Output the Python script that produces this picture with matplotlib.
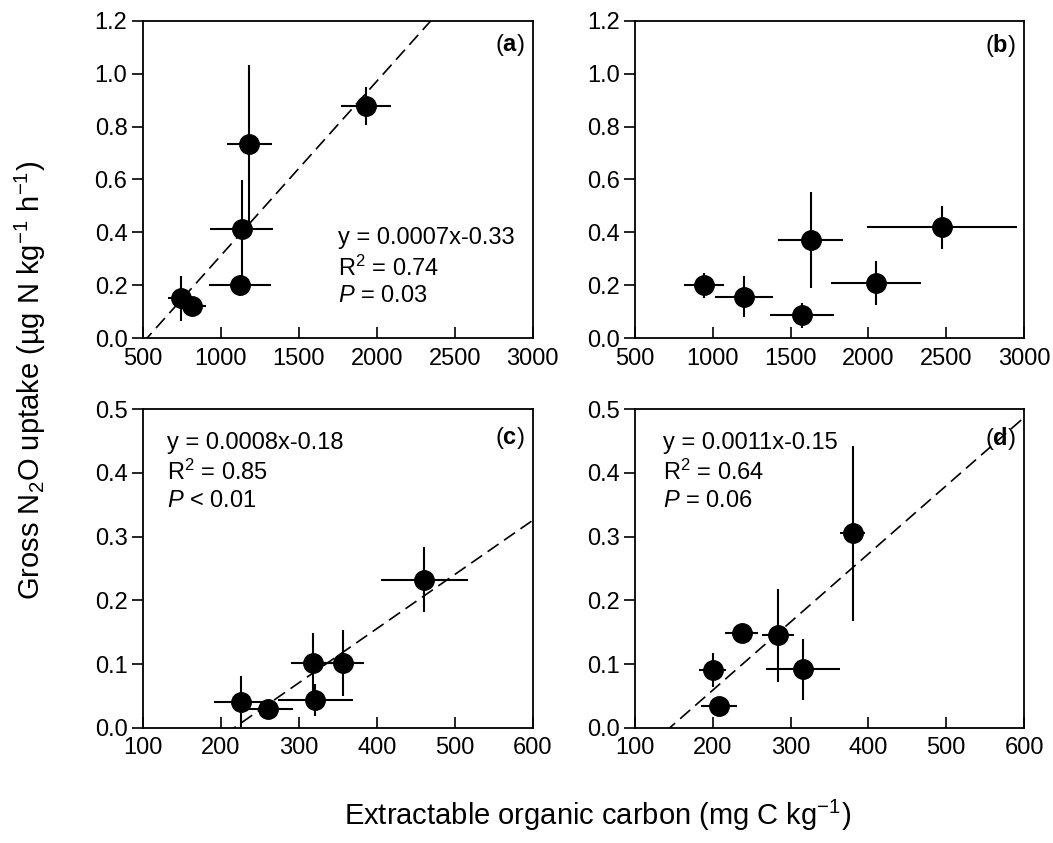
import matplotlib
matplotlib.use('Agg')
import matplotlib.pyplot as plt
import numpy as np

plt.rcParams['font.family'] = ['Liberation Sans', 'DejaVu Sans']
plt.rcParams['mathtext.fontset'] = 'custom'
plt.rcParams['mathtext.rm'] = 'Liberation Sans'
plt.rcParams['mathtext.it'] = 'Liberation Sans:italic'
plt.rcParams['mathtext.bf'] = 'Liberation Sans:bold'

# --- Data ---
# (a)
a_x = [744, 814, 1124, 1135, 1184, 1932]
a_y = [0.151, 0.122, 0.201, 0.414, 0.734, 0.878]
a_xerr = [83, 92, 199, 203, 146, 160]
a_yerr = [0.085, 0.02, 0.04, 0.185, 0.30, 0.073]
a_fit = (0.000659, -0.347)

# (b)
b_x = [943, 1202, 1574, 1628, 2048, 2476]
b_y = [0.201, 0.157, 0.087, 0.372, 0.208, 0.419]
b_xerr = [128, 185, 208, 208, 290, 482]
b_yerr = [0.047, 0.077, 0.047, 0.181, 0.083, 0.082]

# (c)
c_x = [226, 260, 318, 321, 357, 461]
c_y = [0.041, 0.030, 0.101, 0.0435, 0.101, 0.232]
c_xerr = [35, 33, 28, 48, 27, 56]
c_yerr = [0.040, 0.008, 0.047, 0.025, 0.052, 0.051]
c_fit = (0.000851, -0.185)

# (d)
d_x = [200, 208, 237, 284, 316, 380]
d_y = [0.0906, 0.034, 0.148, 0.1455, 0.0916, 0.305]
d_xerr = [17.5, 23.5, 21, 21, 47, 16]
d_yerr = [0.027, 0.006, 0.008, 0.073, 0.048, 0.137]
d_fit = (0.00107, -0.155)

fig = plt.figure(figsize=(10.53, 8.43), dpi=100)

W, H = 1053.0, 843.0
boxes = {
    'a': (142.7, 20.7, 532.7, 338.3),
    'b': (635.0, 20.7, 1024.0, 338.3),
    'c': (142.7, 409.3, 532.7, 727.7),
    'd': (635.0, 409.3, 1024.0, 727.7),
}
FS = 17


def make_ax(key):
    x0, y0, x1, y1 = boxes[key]
    return fig.add_axes([x0 / W, 1 - y1 / H, (x1 - x0) / W, (y1 - y0) / H])


def style(ax, xlim, ylim, xticks, yticks, yfmt):
    ax.set_xlim(*xlim)
    ax.set_ylim(*ylim)
    ax.set_xticks(xticks)
    ax.set_yticks(yticks)
    ax.set_yticklabels([yfmt.format(v) for v in yticks])
    ax.tick_params(axis='x', direction='in', length=8, width=1.2,
                   labelsize=FS, pad=7)
    ax.tick_params(axis='y', direction='out', length=8, width=1.2,
                   labelsize=FS, pad=3)
    for sp in ax.spines.values():
        sp.set_linewidth(1.3)


def points(ax, x, y, xerr, yerr):
    ax.errorbar(x, y, xerr=xerr, yerr=yerr, fmt='o', color='black',
                ms=14, elinewidth=1.5, capsize=0, zorder=3)


def fit_line(ax, fit, xlim):
    xs = np.array(xlim, dtype=float)
    ax.plot(xs, fit[0] * xs + fit[1], color='black', lw=1.2,
            dashes=(8, 4), zorder=2)


def panel_label(ax, letter, ytop):
    ax.text(0.978, ytop, r'($\mathbf{%s}$)' % letter, transform=ax.transAxes,
            ha='right', va='top', fontsize=FS)


def stats(ax, x, y, txt):
    ax.text(x, y, txt, transform=ax.transAxes, ha='left', va='top',
            fontsize=FS, linespacing=1.3)


ax_a = make_ax('a')
style(ax_a, (500, 3000), (0, 1.2), [500, 1000, 1500, 2000, 2500, 3000],
      [0, 0.2, 0.4, 0.6, 0.8, 1.0, 1.2], '{:.1f}')
fit_line(ax_a, a_fit, (500, 3000))
points(ax_a, a_x, a_y, a_xerr, a_yerr)
panel_label(ax_a, 'a', 0.965)
stats(ax_a, 0.50, 0.35, 'y = 0.0007x-0.33\nR$^2$ = 0.74\n$\\it{P}$ = 0.03')

ax_b = make_ax('b')
style(ax_b, (500, 3000), (0, 1.2), [500, 1000, 1500, 2000, 2500, 3000],
      [0, 0.2, 0.4, 0.6, 0.8, 1.0, 1.2], '{:.1f}')
points(ax_b, b_x, b_y, b_xerr, b_yerr)
panel_label(ax_b, 'b', 0.965)

ax_c = make_ax('c')
style(ax_c, (100, 600), (0, 0.5), [100, 200, 300, 400, 500, 600],
      [0, 0.1, 0.2, 0.3, 0.4, 0.5], '{:.1f}')
fit_line(ax_c, c_fit, (100, 600))
points(ax_c, c_x, c_y, c_xerr, c_yerr)
panel_label(ax_c, 'c', 0.95)
stats(ax_c, 0.063, 0.93, 'y = 0.0008x-0.18\nR$^2$ = 0.85\n$\\it{P}$ < 0.01')

ax_d = make_ax('d')
style(ax_d, (100, 600), (0, 0.5), [100, 200, 300, 400, 500, 600],
      [0, 0.1, 0.2, 0.3, 0.4, 0.5], '{:.1f}')
fit_line(ax_d, d_fit, (100, 600))
points(ax_d, d_x, d_y, d_xerr, d_yerr)
panel_label(ax_d, 'd', 0.95)
stats(ax_d, 0.073, 0.93, 'y = 0.0011x-0.15\nR$^2$ = 0.64\n$\\it{P}$ = 0.06')

fig.text(598 / W, 1 - 815 / H, 'Extractable organic carbon (mg C kg$^{-1}$)',
         ha='center', va='center', fontsize=21)
fig.text(30 / W, 1 - 380 / H,
         'Gross N$_2$O uptake (\u00b5g N kg$^{-1}$ h$^{-1}$)',
         ha='center', va='center', rotation=90, fontsize=21)

fig.savefig('out.png', dpi=100)
